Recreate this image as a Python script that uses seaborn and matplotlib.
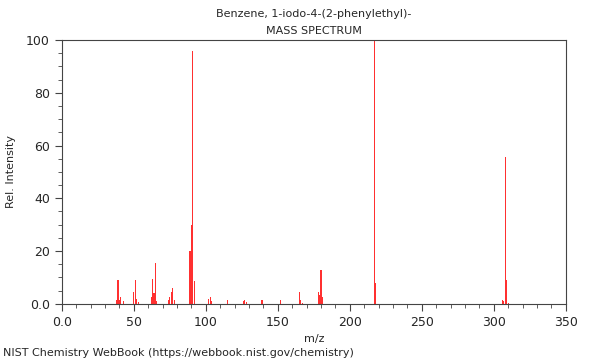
import matplotlib
matplotlib.use("Agg")
from matplotlib import pyplot as plt
from matplotlib.ticker import MultipleLocator, FuncFormatter
import pandas as pd
import seaborn as sns

# m/z and relative intensity
mz = [38, 39, 40, 41, 43,
      50, 51, 52, 53,
      62, 63, 64, 65, 66,
      74, 75, 76, 77, 78,
      89, 90, 91, 92,
      102, 103, 104,
      115,
      126, 127, 128,
      139,
      152,
      165, 166, 167,
      178, 179, 180, 181,
      217, 218,
      306, 307, 308, 309, 310]
intensity = [1.5, 9.2, 1.5, 2.5, 1.0,
             4.5, 9.0, 2.0, 0.7,
             2.5, 9.5, 4.0, 15.5, 1.0,
             1.5, 2.5, 4.5, 6.0, 1.5,
             20.0, 30.0, 96.0, 8.5,
             2.0, 2.5, 1.0,
             1.5,
             1.0, 1.5, 0.7,
             1.5,
             1.5,
             4.5, 1.5, 0.5,
             4.5, 3.5, 13.0, 2.5,
             100.0, 8.0,
             1.5, 1.0, 55.5, 9.0, 0.5]

df = pd.DataFrame({"mz": mz, "intensity": intensity})

sns.set_style("ticks")
plt.rcParams["font.family"] = ["DejaVu Sans"]

fig = plt.figure(figsize=(6, 3.6), dpi=100)
ax = fig.add_axes([0.103, 0.156, 0.84, 0.733])

sns.barplot(data=df, x="mz", y="intensity", native_scale=True, width=0.8,
            color="#ff3030", saturation=1, linewidth=0, errorbar=None, ax=ax)

ax.set_xlim(0, 350)
ax.set_ylim(0, 100)
ax.xaxis.set_major_locator(MultipleLocator(50))
ax.xaxis.set_minor_locator(MultipleLocator(10))
ax.yaxis.set_major_locator(MultipleLocator(20))
ax.yaxis.set_minor_locator(MultipleLocator(5))
fmt = FuncFormatter(lambda v, p: "0.0" if v == 0 else f"{v:.0f}")
ax.xaxis.set_major_formatter(fmt)
ax.yaxis.set_major_formatter(fmt)
ax.tick_params(labelsize=9, color="#444444", length=5)
ax.tick_params(which="minor", length=3, color="#444444")
for s in ax.spines.values():
    s.set_visible(True)
    s.set_color("#444444")
    s.set_linewidth(0.8)

ax.set_xlabel("m/z", fontsize=8)
ax.set_ylabel("Rel. Intensity", fontsize=8, labelpad=7)

fig.text(0.523, 0.962, "Benzene, 1-iodo-4-(2-phenylethyl)-", ha="center", va="center", fontsize=8)
fig.text(0.523, 0.915, "MASS SPECTRUM", ha="center", va="center", fontsize=8)
fig.text(0.005, 0.02, "NIST Chemistry WebBook (https://webbook.nist.gov/chemistry)", ha="left", va="center", fontsize=8)

fig.savefig("out.png", dpi=100)
